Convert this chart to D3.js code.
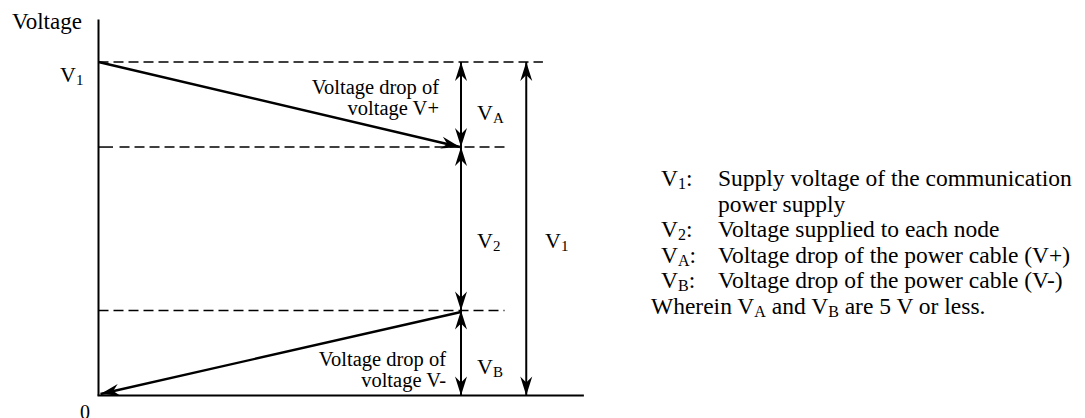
<!DOCTYPE html>
<html><head><meta charset="utf-8">
<script src="https://cdn.jsdelivr.net/npm/d3@7"></script>
<style>body{margin:0;background:#fff}svg{display:block}text{font-family:"Liberation Serif","Times New Roman",serif;fill:#000}</style>
</head><body>
<script>
// ---- data ----
const supplyV = 20;            // V1 (schematic)
const dropA = 5.1;             // VA
const dropB = 5.1;             // VB
const levels = [supplyV, supplyV - dropA, dropB, 0];
const axisTitle = "Voltage";
const zeroLabel = "0";
const dropLabelsTop = ["Voltage drop of", "voltage V+"];
const dropLabelsBottom = ["Voltage drop of", "voltage V-"];
const legendKeys = ["1", "2", "A", "B"];
const legendTexts = [
  ["Supply voltage of the communication", "power supply"],
  ["Voltage supplied to each node"],
  ["Voltage drop of the power cable (V+)"],
  ["Voltage drop of the power cable (V-)"]
];
const footnote = ["Wherein V", "A", " and V", "B", " are 5 V or less."];

// ---- layout ----
const W = 1085, H = 418;
const svg = d3.select("body").append("svg").attr("width", W).attr("height", H);
const y = d3.scaleLinear().domain([0, supplyV]).range([395.5, 62]);
const x = d3.scaleLinear().domain([0, 1]).range([98.5, 461]);
const xV1 = x(1.18), xDashEnd = x(1.12), xTopDashEnd = x(1.226), xBaseEnd = x(1.339);

const defs = svg.append("defs");
defs.append("marker").attr("id", "ah").attr("markerUnits", "userSpaceOnUse")
  .attr("viewBox", "-20 -7 21 14").attr("markerWidth", 21).attr("markerHeight", 14)
  .attr("refX", 0).attr("refY", 0).attr("orient", "auto-start-reverse")
  .append("path").attr("d", "M0,0 L-19,-6 L-13,0 L-19,6 Z").attr("fill", "#000");

const g = svg.append("g");
// axis
g.append("line").attr("x1", x(0)).attr("x2", x(0)).attr("y1", 19.5).attr("y2", y(0))
  .attr("stroke", "#000").attr("stroke-width", 2);
// baseline
g.append("line").attr("x1", x(0) - 1).attr("x2", xBaseEnd).attr("y1", y(0)).attr("y2", y(0))
  .attr("stroke", "#000").attr("stroke-width", 2.2);
// dashed levels
const dash = "10,5";
g.append("line").attr("x1", x(0)).attr("x2", xTopDashEnd).attr("y1", y(levels[0])).attr("y2", y(levels[0]))
  .attr("stroke", "#000").attr("stroke-width", 1.5).attr("stroke-dasharray", dash);
g.append("line").attr("x1", x(0)).attr("x2", x(0.04)).attr("y1", y(levels[1])).attr("y2", y(levels[1]))
  .attr("stroke", "#000").attr("stroke-width", 1.5);
g.append("line").attr("x1", x(0.058)).attr("x2", xDashEnd).attr("y1", y(levels[1])).attr("y2", y(levels[1]))
  .attr("stroke", "#000").attr("stroke-width", 1.5).attr("stroke-dasharray", dash);
g.append("line").attr("x1", x(0)).attr("x2", xDashEnd).attr("y1", y(levels[2])).attr("y2", y(levels[2]))
  .attr("stroke", "#000").attr("stroke-width", 1.5).attr("stroke-dasharray", dash);

// slanted drop arrows
g.append("line").attr("x1", x(0)).attr("y1", y(levels[0])).attr("x2", x(1) - 1).attr("y2", y(levels[1]))
  .attr("stroke", "#000").attr("stroke-width", 2.4).attr("marker-end", "url(#ah)");
g.append("line").attr("x1", x(1)).attr("y1", y(levels[2]) + 1.5).attr("x2", x(0) + 2).attr("y2", y(0) - 1.5)
  .attr("stroke", "#000").attr("stroke-width", 2.4).attr("marker-end", "url(#ah)");

// vertical double arrows
const spans = [[levels[0], levels[1], x(1)], [levels[1], levels[2], x(1)], [levels[2], levels[3], x(1)], [levels[0], levels[3], xV1]];
g.selectAll("line.span").data(spans).join("line").attr("class", "span")
  .attr("x1", d => d[2]).attr("x2", d => d[2]).attr("y1", d => y(d[0])).attr("y2", d => y(d[1]))
  .attr("stroke", "#000").attr("stroke-width", 2)
  .attr("marker-start", "url(#ah)").attr("marker-end", "url(#ah)");

// text helpers
function vlab(px, py, sub, size, subSize, anchor) {
  const t = g.append("text").attr("x", px).attr("y", py).attr("font-size", size).attr("text-anchor", anchor || "start");
  t.append("tspan").text("V");
  t.append("tspan").attr("dy", 3).attr("font-size", subSize).text(sub);
  return t;
}
g.append("text").attr("x", 12).attr("y", 29).attr("font-size", 23).text(axisTitle);
vlab(60, 82, "1", 22, 15);
g.append("text").attr("x", 85).attr("y", 419).attr("font-size", 20).attr("text-anchor", "middle").text(zeroLabel);

dropLabelsTop.forEach((s, i) => g.append("text").attr("x", 439).attr("y", 93.5 + i * 21)
  .attr("font-size", 20.5).attr("text-anchor", "end").text(s));
dropLabelsBottom.forEach((s, i) => g.append("text").attr("x", 446).attr("y", 365.5 + i * 21)
  .attr("font-size", 20.5).attr("text-anchor", "end").text(s));

vlab(477, 120, "A", 22, 15);
vlab(477, 248, "2", 22, 15);
vlab(477, 374, "B", 22, 15);
vlab(545, 248, "1", 22, 15);

// legend
const lg = svg.append("g");
const lh = 25.5;
let row = 0;
legendKeys.forEach((k, i) => {
  const by = 186 + row * lh;
  const t = lg.append("text").attr("x", 661).attr("y", by).attr("font-size", 23.5);
  t.append("tspan").text("V");
  t.append("tspan").attr("dy", 3).attr("font-size", 16).text(k);
  t.append("tspan").attr("dy", -3).text(":");
  legendTexts[i].forEach((s, j) => {
    lg.append("text").attr("x", 718).attr("y", by + j * lh).attr("font-size", 23.5).text(s);
  });
  row += legendTexts[i].length;
});
const ft = lg.append("text").attr("x", 651).attr("y", 186 + row * lh).attr("font-size", 23.5);
footnote.forEach((s, i) => {
  const isSub = i % 2 === 1;
  ft.append("tspan").attr("dy", isSub ? 3 : (i === 0 ? 0 : -3)).attr("font-size", isSub ? 16 : 23.5).text(s);
});
</script>
</body></html>
